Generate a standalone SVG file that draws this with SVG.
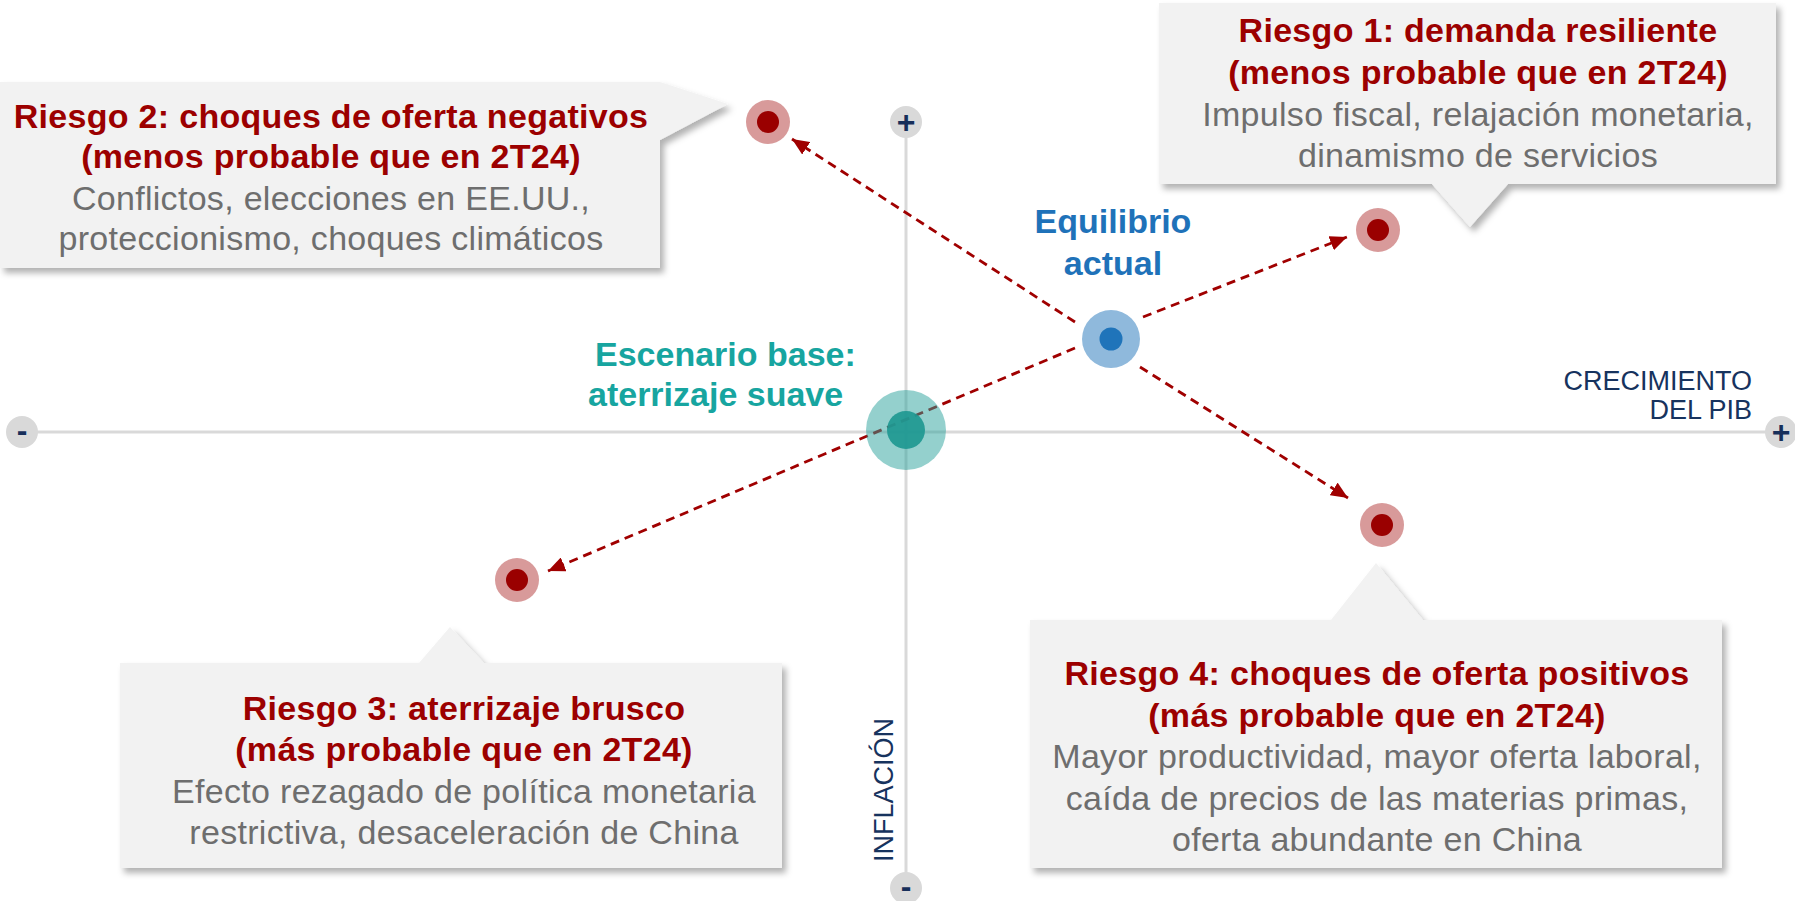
<svg xmlns="http://www.w3.org/2000/svg" width="1795" height="901" viewBox="0 0 1795 901">
<defs>
<style>
.axis{stroke:#d9d9d9;stroke-width:3;fill:none}
.knob{fill:#d9d9d9}
.sign{font-family:"Liberation Sans",Arial,sans-serif;font-weight:bold;font-size:32px;fill:#172f5a;text-anchor:middle}
.axlab{font-family:"Liberation Sans",Arial,sans-serif;font-size:27px;fill:#17335e}
.conn{stroke:#a00000;stroke-width:2.8;stroke-dasharray:9 6;fill:none;marker-end:url(#ah)}
.box{fill:#f2f2f2;filter:url(#sh)}
.t{font-family:"Liberation Sans",Arial,sans-serif;font-size:34px;text-anchor:middle;letter-spacing:0.3px}
.h{font-weight:bold;fill:#9c0000}
.b{fill:#6e6e6e}
.rOut{fill:#d89a9a}
.rIn{fill:#9a0000}
.lab{font-family:"Liberation Sans",Arial,sans-serif;font-size:34px;font-weight:bold}
</style>
<filter id="sh" x="-5%" y="-5%" width="115%" height="125%">
<feDropShadow dx="4" dy="5" stdDeviation="3" flood-color="#000" flood-opacity="0.3"/>
</filter>
<marker id="ah" markerWidth="17" markerHeight="15" refX="17" refY="7.5" orient="auto" markerUnits="userSpaceOnUse">
<path d="M0,0 L17,7.5 L0,15 Z" fill="#a00000"/>
</marker>
</defs>

<g id="axes">
<line class="axis" x1="22" y1="432" x2="1781" y2="432"/>
<line class="axis" x1="906" y1="122" x2="906" y2="888"/>
<circle class="knob" cx="22" cy="432" r="16"/>
<circle class="knob" cx="1781" cy="432" r="16"/>
<circle class="knob" cx="906" cy="122" r="16"/>
<circle class="knob" cx="906" cy="888" r="16"/>
<text class="sign" x="22" y="441">-</text>
<text class="sign" x="1781" y="443">+</text>
<text class="sign" x="906" y="133">+</text>
<text class="sign" x="906" y="897">-</text>
<text class="axlab" text-anchor="end" x="1752" y="390">CRECIMIENTO</text>
<text class="axlab" text-anchor="end" x="1752" y="419">DEL PIB</text>
<text class="axlab" text-anchor="middle" transform="translate(893,790) rotate(-90)">INFLACIÓN</text>
</g>

<g id="connectors">
<line class="conn" x1="1075" y1="322" x2="792" y2="139"/>
<line class="conn" x1="1143" y1="317" x2="1347" y2="237"/>
<line class="conn" x1="1140" y1="367" x2="1348" y2="498"/>
<line class="conn" x1="1075" y1="348" x2="548" y2="571"/>
</g>

<g id="base">
<circle cx="906" cy="430" r="40" fill="#2aa29c" fill-opacity="0.5"/>
<circle cx="906" cy="430" r="19" fill="#1e9891" fill-opacity="0.92"/>
<text class="lab" fill="#17a5a0" x="595" y="366">Escenario base:</text>
<text class="lab" fill="#17a5a0" x="588" y="406">aterrizaje suave</text>
</g>

<g id="equilibrio">
<circle cx="1111" cy="339" r="29" fill="#8fb9dc"/>
<circle cx="1111" cy="339" r="11.5" fill="#1f74ba"/>
<text class="lab" fill="#1f72b9" text-anchor="middle" x="1113" y="233">Equilibrio</text>
<text class="lab" fill="#1f72b9" text-anchor="middle" x="1113" y="275">actual</text>
</g>

<g id="riesgo1">
<path class="box" d="M1159,3 H1776 V184 H1508 L1470,227 L1432,184 H1159 Z"/>
<text class="t h" x="1478" y="42">Riesgo 1: demanda resiliente</text>
<text class="t h" x="1478" y="84">(menos probable que en 2T24)</text>
<text class="t b" x="1478" y="126">Impulso fiscal, relajación monetaria,</text>
<text class="t b" x="1478" y="167">dinamismo de servicios</text>
<circle class="rOut" cx="1378" cy="230" r="22"/>
<circle class="rIn" cx="1378" cy="230" r="11"/>
</g>

<g id="riesgo2">
<path class="box" d="M0,82 H660 L728,104 L660,140 V268 H0 Z"/>
<text class="t h" x="331" y="128">Riesgo 2: choques de oferta negativos</text>
<text class="t h" x="331" y="168">(menos probable que en 2T24)</text>
<text class="t b" x="331" y="210">Conflictos, elecciones en EE.UU.,</text>
<text class="t b" x="331" y="250">proteccionismo, choques climáticos</text>
<circle class="rOut" cx="768" cy="122" r="22"/>
<circle class="rIn" cx="768" cy="122" r="11"/>
</g>

<g id="riesgo3">
<path class="box" d="M120,663 H419 L450,627 L484,663 H782 V868 H120 Z"/>
<text class="t h" x="464" y="720">Riesgo 3: aterrizaje brusco</text>
<text class="t h" x="464" y="761">(más probable que en 2T24)</text>
<text class="t b" x="464" y="803">Efecto rezagado de política monetaria</text>
<text class="t b" x="464" y="844">restrictiva, desaceleración de China</text>
<circle class="rOut" cx="517" cy="580" r="22"/>
<circle class="rIn" cx="517" cy="580" r="11"/>
</g>

<g id="riesgo4">
<path class="box" d="M1030,620 H1331 L1376,563 L1423,620 H1722 V868 H1030 Z"/>
<text class="t h" x="1377" y="685">Riesgo 4: choques de oferta positivos</text>
<text class="t h" x="1377" y="727">(más probable que en 2T24)</text>
<text class="t b" x="1377" y="768">Mayor productividad, mayor oferta laboral,</text>
<text class="t b" x="1377" y="810">caída de precios de las materias primas,</text>
<text class="t b" x="1377" y="851">oferta abundante en China</text>
<circle class="rOut" cx="1382" cy="525" r="22"/>
<circle class="rIn" cx="1382" cy="525" r="11"/>
</g>
</svg>
